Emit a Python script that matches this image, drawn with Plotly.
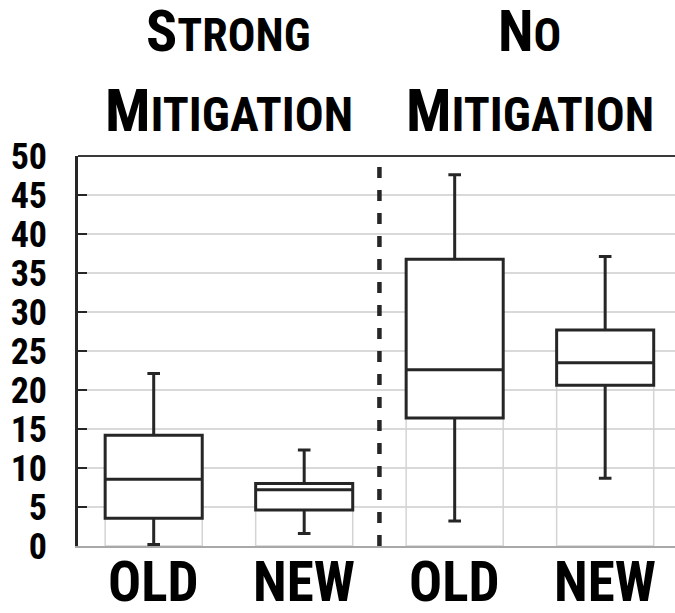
import plotly.graph_objects as go

# ---- data ----
categories = ["OLD", "NEW", "OLD", "NEW"]
title_line1 = [("S", "TRONG"), ("N", "O")]
title_line2 = [("M", "ITIGATION"), ("M", "ITIGATION")]
lower_whisker = [0.2, 1.6, 3.2, 8.7]
q1 = [3.55, 4.6, 16.4, 20.6]
median = [8.55, 7.2, 22.6, 23.5]
q3 = [14.2, 8.0, 36.75, 27.7]
upper_whisker = [22.1, 12.3, 47.6, 37.1]
y_ticks = list(range(0, 51, 5))

FONT = "Roboto Condensed, Open Sans Condensed, sans-serif"
DARK = "#262626"
pos = list(range(len(categories)))
BOXW = 0.645
MT, MB = 156, 67
PLOT_H = 613 - MT - MB

fig = go.Figure()

# faint outline below each box (base 0 up to Q1)
fig.add_trace(go.Bar(
    x=pos, y=q1, width=BOXW,
    marker=dict(color="rgba(0,0,0,0)", line=dict(color="#d4d4d4", width=1.5)),
    hoverinfo="skip", showlegend=False,
))

fig.add_trace(go.Box(
    x=pos, q1=q1, median=median, q3=q3,
    lowerfence=lower_whisker, upperfence=upper_whisker, width=BOXW,
    fillcolor="white", line=dict(color=DARK, width=3),
    whiskerwidth=0.13, boxpoints=False, showlegend=False,
))

# group titles (two lines each, small-caps look)
for gi in range(len(title_line1)):
    xc = gi * 2 + 0.5
    a, b = title_line1[gi]
    fig.add_annotation(
        x=xc, xref="x", y=1 + (MT - 67.5) / PLOT_H, yref="paper", yanchor="bottom",
        showarrow=False,
        text=f"{a}<span style='font-size:46px'>{b}</span>",
        font=dict(family=FONT, size=58, color="black", weight="bold"),
    )
    a, b = title_line2[gi]
    fig.add_annotation(
        x=xc, xref="x", y=1 + (MT - 147.5) / PLOT_H, yref="paper", yanchor="bottom",
        showarrow=False,
        text=f"{a}<span style='font-size:48px'>{b}</span>",
        font=dict(family=FONT, size=60, color="black", weight="bold"),
    )

# category labels under the boxes
for p, c in zip(pos, categories):
    fig.add_annotation(
        x=p, xref="x", y=-(548 - 546) / PLOT_H, yref="paper", yanchor="top",
        showarrow=False, text=c,
        font=dict(family=FONT, size=55, color="black", weight="bold"),
    )

fig.update_layout(
    template="none",
    width=675, height=613,
    margin=dict(l=78, r=0, t=MT, b=MB, pad=0),
    paper_bgcolor="white", plot_bgcolor="white",
    boxgap=0, boxgroupgap=0, bargap=1 - BOXW, barmode="overlay",
    showlegend=False,
    xaxis=dict(
        range=[-0.503, 3.464], tickvals=pos, showticklabels=False,
        showgrid=False, zeroline=False, showline=True, linecolor="#a8a8a8",
        linewidth=2, ticks="", fixedrange=True, automargin=False,
    ),
    yaxis=dict(
        range=[0, 50], tickvals=y_ticks, showgrid=True, gridcolor="#d9d9d9",
        gridwidth=1.5, zeroline=False, showline=True, linecolor=DARK,
        linewidth=2.5, ticks="inside", ticklen=9, tickwidth=2, tickcolor=DARK,
        ticklabelstandoff=21, automargin=False, fixedrange=True,
        tickfont=dict(family=FONT, size=36, color="black", weight="bold"),
    ),
)

# top border and group divider
fig.add_shape(type="line", xref="paper", yref="paper", x0=0, x1=1, y0=1, y1=1,
              line=dict(color="#3a3a3a", width=2))
fig.add_shape(type="line", xref="x", yref="paper", x0=1.5, x1=1.5, y0=0, y1=1,
              line=dict(color=DARK, width=4.5, dash="11px,12px"))

fig.write_html(
    "out.html",
    config={"displayModeBar": False},
    post_script="document.body.style.margin='0';document.body.style.overflow='hidden';",
)
